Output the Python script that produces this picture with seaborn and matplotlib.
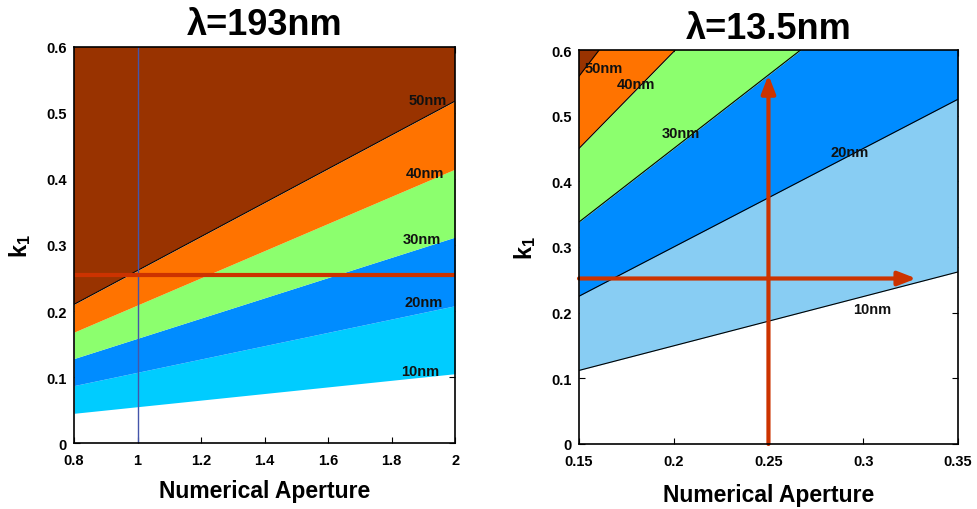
import matplotlib
matplotlib.use("Agg")
import matplotlib.pyplot as plt
import seaborn as sns
import numpy as np
import pandas as pd

# ---------------- data ----------------
hp_labels = ['10nm', '20nm', '30nm', '40nm', '50nm']

# lambda = 193 nm panel: boundary k1 values at the two NA ends
na_193 = [0.8, 2.0]
k1_193_start = [0.045, 0.087, 0.128, 0.168, 0.210]
k1_193_end = [0.105, 0.208, 0.312, 0.415, 0.518]
band_colors_193 = ['#00CCFF', '#008CFF', '#8CFF6E', '#FF7300', '#993300']
label_na_193 = [1.89, 1.90, 1.895, 1.905, 1.915]
label_k1_193 = [0.109, 0.214, 0.309, 0.409, 0.520]
hline_k1_193 = 0.255
vline_na_193 = 1.0

# lambda = 13.5 nm panel
na_135 = [0.15, 0.35]
k1_135_start = [0.112, 0.225, 0.338, 0.450, 0.560]
k1_135_end = [0.262, 0.525, 0.786, 1.040, 1.310]
band_colors_135 = ['#88CDF3', '#008CFF', '#8CFF6E', '#FF7300', '#993300']
label_na_135 = [0.305, 0.293, 0.204, 0.180, 0.163]
label_k1_135 = [0.206, 0.445, 0.474, 0.548, 0.573]
arrow_na_135 = 0.25
arrow_k1_135 = 0.252
arrow_v_tip = 0.562
arrow_h_tip = 0.328

titles = ['λ=193nm', 'λ=13.5nm']
xticks_193 = [0.8, 1, 1.2, 1.4, 1.6, 1.8, 2]
xtick_labels_193 = ['0.8', '1', '1.2', '1.4', '1.6', '1.8', '2']
xticks_135 = [0.15, 0.2, 0.25, 0.3, 0.35]
xtick_labels_135 = ['0.15', '0.2', '0.25', '0.3', '0.35']
yticks = [0, 0.1, 0.2, 0.3, 0.4, 0.5, 0.6]
ytick_labels = ['0', '0.1', '0.2', '0.3', '0.4', '0.5', '0.6']

# ---------------- style ----------------
sns.set_theme(style='white')
plt.rcParams['font.family'] = ['Liberation Sans', 'DejaVu Sans']
plt.rcParams['text.color'] = 'black'
plt.rcParams['axes.labelcolor'] = 'black'
plt.rcParams['xtick.color'] = 'black'
plt.rcParams['ytick.color'] = 'black'
plt.rcParams['mathtext.fontset'] = 'custom'
plt.rcParams['mathtext.rm'] = 'Liberation Sans:bold'
plt.rcParams['mathtext.bf'] = 'Liberation Sans:bold'
plt.rcParams['mathtext.it'] = 'Liberation Sans:bold'

fig = plt.figure(figsize=(9.78, 5.10), dpi=100)
ax1 = fig.add_axes([0.0757, 0.1294, 0.3896, 0.7765])
ax2 = fig.add_axes([0.5920, 0.1275, 0.3875, 0.7725])

red = '#CC3300'


def draw_panel(ax, na, k_start, k_end, colors, lines_on, lab_x, lab_y):
    x = np.array(na, dtype=float)
    bounds = [np.array([a, b]) for a, b in zip(k_start, k_end)]
    for i in range(len(bounds)):
        lower = bounds[i]
        upper = bounds[i + 1] if i + 1 < len(bounds) else np.array([5.0, 5.0])
        ax.fill_between(x, lower, upper, color=colors[i], lw=0, zorder=1)
    for i, b in enumerate(bounds):
        if lines_on[i]:
            df = pd.DataFrame({'na': x, 'k1': b})
            sns.lineplot(data=df, x='na', y='k1', ax=ax, color='black', lw=0.8, zorder=2)
    for t, lx, ly in zip(hp_labels, lab_x, lab_y):
        ax.text(lx, ly, t, ha='center', va='center', fontsize=10.5,
                fontweight='bold', color='#111111', zorder=5)


draw_panel(ax1, na_193, k1_193_start, k1_193_end, band_colors_193,
           [False, False, False, False, True], label_na_193, label_k1_193)
draw_panel(ax2, na_135, k1_135_start, k1_135_end, band_colors_135,
           [True, True, True, True, True], label_na_135, label_k1_135)

# overlays left
ax1.axvline(vline_na_193, color='#4455AA', lw=1.0, zorder=3)
ax1.axhline(hline_k1_193, color=red, lw=3.0, zorder=4)

# overlays right
ax2.annotate('', xy=(arrow_na_135, arrow_v_tip), xytext=(arrow_na_135, 0.0),
             arrowprops=dict(arrowstyle='-|>,head_length=0.9,head_width=0.35',
                             color=red, lw=3, shrinkA=0, shrinkB=0), zorder=4)
ax2.annotate('', xy=(arrow_h_tip, arrow_k1_135), xytext=(0.15, arrow_k1_135),
             arrowprops=dict(arrowstyle='-|>,head_length=0.9,head_width=0.35',
                             color=red, lw=3, shrinkA=0, shrinkB=0), zorder=4)

for ax, ttl, xt, xtl, xl in [(ax1, titles[0], xticks_193, xtick_labels_193, na_193),
                             (ax2, titles[1], xticks_135, xtick_labels_135, na_135)]:
    ax.set_xlim(xl[0], xl[1])
    ax.set_ylim(0, 0.6)
    ax.set_xticks(xt)
    ax.set_xticklabels(xtl, fontsize=10.5, fontweight='bold')
    ax.set_yticks(yticks)
    ax.set_yticklabels(ytick_labels, fontsize=10.5, fontweight='bold')
    ax.tick_params(direction='in', length=4, width=0.8, top=True, right=True,
                   left=True, bottom=True, colors='black')
    ax.tick_params(axis='x', pad=7)
    ax.tick_params(axis='y', pad=5)
    for s in ax.spines.values():
        s.set_visible(True)
        s.set_color('black')
        s.set_linewidth(1.2)
        s.set_zorder(6)
    ax.set_title(ttl, fontsize=26, fontweight='bold', pad=9, color='black')
    ax.set_ylabel(r'$\mathregular{k_1}$', fontsize=17, fontweight='bold', labelpad=10)
    ax.grid(False)

ax1.set_xlabel('Numerical Aperture', fontsize=16.5, fontweight='bold', labelpad=9)
ax2.set_xlabel('Numerical Aperture', fontsize=16.5, fontweight='bold', labelpad=11)

fig.savefig('out.png', dpi=100)
